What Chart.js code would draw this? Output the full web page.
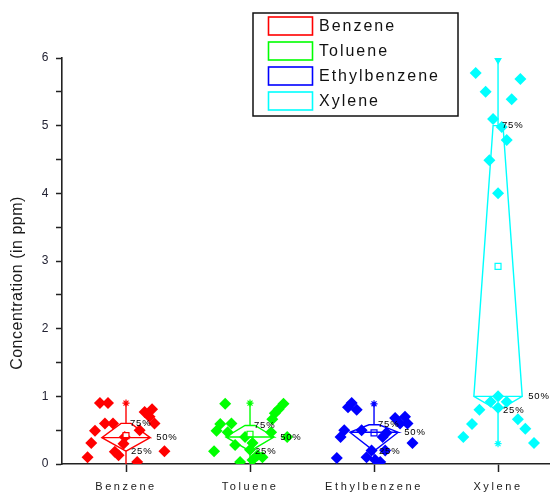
<!DOCTYPE html>
<html><head><meta charset="utf-8">
<script src="https://cdn.jsdelivr.net/npm/chart.js@4"></script>
<style>html,body{margin:0;padding:0;background:#fff}</style>
</head><body>
<canvas id="c" width="550" height="492"></canvas>
<script>
// ---- data ----
const categories = ['Benzene', 'Toluene', 'Ethylbenzene', 'Xylene'];
const whiskerLow  = [0.0, 0.0, 0.0, 0.3];
const whiskerHigh = [0.9, 0.9, 0.89, 6.0];
const q1          = [0.19, 0.19, 0.19, 0.79];
const median      = [0.39, 0.4, 0.47, 1.0];
const q3          = [0.6, 0.57, 0.58, 5.0];
const mean        = [0.42, 0.44, 0.46, 2.92];
const percentLabels = ['75%', '50%', '25%'];

// raw points: jitter offset from category centre, and measured value
const benzeneJitter  = [-0.21, -0.145, -0.17, -0.105, -0.25, -0.28, -0.31, -0.09, -0.06, -0.01, -0.02, 0.09, 0.11, 0.15, 0.21, 0.19, 0.23, 0.31];
const benzeneValues  = [0.9, 0.9, 0.6, 0.6, 0.49, 0.31, 0.1, 0.18, 0.13, 0.4, 0.3, 0.03, 0.5, 0.77, 0.81, 0.7, 0.6, 0.19];
const tolueneJitter  = [-0.2, -0.29, -0.24, -0.27, -0.18, -0.15, -0.12, -0.04, 0.0, 0.02, 0.06, 0.1, -0.08, 0.02, 0.2, 0.18, 0.27, 0.23, 0.17, 0.3];
const tolueneValues  = [0.89, 0.19, 0.59, 0.49, 0.47, 0.6, 0.28, 0.4, 0.21, 0.31, 0.13, 0.1, 0.03, 0.06, 0.75, 0.66, 0.89, 0.81, 0.47, 0.4];
const ethylJitter    = [-0.18, -0.14, -0.21, -0.24, -0.27, -0.3, -0.1, -0.06, -0.02, 0.01, 0.05, 0.07, 0.1, 0.17, 0.25, 0.21, 0.27, 0.31, 0.09];
const ethylValues    = [0.9, 0.8, 0.84, 0.5, 0.4, 0.09, 0.5, 0.1, 0.2, 0.06, 0.03, 0.4, 0.46, 0.68, 0.7, 0.6, 0.6, 0.31, 0.2];
const xyleneJitter   = [-0.18, -0.1, 0.18, 0.11, -0.04, 0.03, 0.07, -0.07, 0.0, -0.28, -0.21, -0.15, -0.06, 0.0, 0.07, 0.0, 0.16, 0.22, 0.29];
const xyleneValues   = [5.78, 5.5, 5.69, 5.39, 5.1, 4.98, 4.79, 4.49, 4.0, 0.4, 0.59, 0.8, 0.92, 1.0, 0.92, 0.83, 0.66, 0.52, 0.31];

// ---- styling ----
const colors = ['#ff0000', '#00ff00', '#0000ff', '#00ffff'];
const jitters = [benzeneJitter, tolueneJitter, ethylJitter, xyleneJitter];
const values = [benzeneValues, tolueneValues, ethylValues, xyleneValues];
const BOX_HALF = 0.195;   // half width of box (x units)
const TOP_HALF = 0.04;    // half width of flat top at Q3

const datasets = [];
categories.forEach((name, i) => {
  const c = i + 1;
  datasets.push({
    type: 'scatter', label: name + ' data', order: 2,
    data: values[i].map((v, k) => ({ x: c + jitters[i][k], y: v })),
    pointStyle: 'rectRot', pointRadius: 6, pointHoverRadius: 6,
    backgroundColor: colors[i], borderColor: colors[i], borderWidth: 0
  });
  datasets.push({
    type: 'scatter', label: name, order: 0, showLine: true,
    data: [
      { x: c - BOX_HALF, y: median[i] }, { x: c + BOX_HALF, y: median[i] },
      { x: c + TOP_HALF, y: q3[i] }, { x: c - TOP_HALF, y: q3[i] },
      { x: c - BOX_HALF, y: median[i] }, { x: c, y: q1[i] },
      { x: c + BOX_HALF, y: median[i] }
    ],
    borderColor: colors[i], borderWidth: 1.4, pointRadius: 0, fill: false, tension: 0
  });
  const topMarker = i === 3 ? 'triangle' : 'star';
  datasets.push({
    type: 'scatter', label: name + ' upper', order: 0, showLine: true,
    data: [{ x: c, y: q3[i] }, { x: c, y: whiskerHigh[i] }],
    borderColor: colors[i], borderWidth: 1.4,
    pointRadius: [0, i === 3 ? 5.5 : 3.5],
    pointStyle: topMarker, pointRotation: i === 3 ? 180 : 0,
    backgroundColor: colors[i], pointBorderColor: colors[i], pointBorderWidth: 1.2
  });
  datasets.push({
    type: 'scatter', label: name + ' lower', order: 0, showLine: true,
    data: [{ x: c, y: q1[i] }, { x: c, y: whiskerLow[i] }],
    borderColor: colors[i], borderWidth: 1.4,
    pointRadius: [0, i === 3 ? 3.5 : 0], pointStyle: 'star',
    pointBorderColor: colors[i], pointBorderWidth: 1.2
  });
  datasets.push({
    type: 'scatter', label: name + ' mean', order: 0,
    data: [{ x: c, y: mean[i] }],
    pointStyle: 'rect', pointRadius: 4.2, backgroundColor: '#ffffff',
    borderColor: colors[i], borderWidth: 1.2
  });
});

const FONT = '"Liberation Sans", Arial, sans-serif';

const decor = {
  id: 'decor',
  beforeDraw(chart) { chart.ctx.letterSpacing = '2.6px'; },
  afterDraw(chart) {
    const ctx = chart.ctx;
    const xs = chart.scales.x, ys = chart.scales.y;
    ctx.save();
    ctx.letterSpacing = '0.8px';
    ctx.font = '9.5px ' + FONT;
    ctx.fillStyle = '#000';
    ctx.textAlign = 'left';
    ctx.textBaseline = 'middle';
    categories.forEach((n, i) => {
      const c = i + 1;
      ctx.fillText(percentLabels[0], xs.getPixelForValue(c) + 4, ys.getPixelForValue(q3[i]));
      ctx.fillText(percentLabels[1], xs.getPixelForValue(c + BOX_HALF) + 6, ys.getPixelForValue(median[i]));
      ctx.fillText(percentLabels[2], xs.getPixelForValue(c) + 5, ys.getPixelForValue(q1[i]));
    });
    ctx.letterSpacing = '0.5px';
    ctx.font = '16px ' + FONT;
    ctx.fillStyle = '#1a1a1a';
    ctx.textAlign = 'center';
    ctx.translate(18, 283);
    ctx.rotate(-Math.PI / 2);
    ctx.fillText('Concentration (in ppm)', 0, 0);
    ctx.restore();

    ctx.save();
    ctx.lineWidth = 1.5;
    ctx.strokeStyle = '#111';
    ctx.strokeRect(253, 13, 205, 103);
    const rowY = [26, 51, 76, 101];
    ctx.font = '16px ' + FONT;
    ctx.letterSpacing = '2px';
    ctx.textAlign = 'left';
    ctx.textBaseline = 'middle';
    categories.forEach((n, i) => {
      ctx.strokeStyle = colors[i];
      ctx.lineWidth = 1.6;
      ctx.strokeRect(268.5, rowY[i] - 9, 44, 18);
      ctx.fillStyle = '#111';
      ctx.fillText(n, 319, rowY[i] + 1);
    });
    ctx.restore();
    ctx.letterSpacing = '0px';
  }
};

new Chart(document.getElementById('c'), {
  data: { datasets },
  options: {
    responsive: false, animation: false, devicePixelRatio: 1,
    layout: { autoPadding: false, padding: { top: 58, right: 0, left: 0, bottom: 0 } },
    plugins: { legend: { display: false }, tooltip: { enabled: false } },
    scales: {
      x: {
        type: 'linear', min: 0.4839, max: 4.419,
        afterBuildTicks: s => { s.ticks = categories.map((n, i) => ({ value: i + 1 })); },
        afterFit: s => { s.height = 28; s.paddingLeft = 0; s.paddingRight = 0; },
        ticks: {
          autoSkip: false, maxRotation: 0, padding: 8,
          font: { size: 11, family: FONT }, color: '#1a1a1a',
          callback: v => categories[Math.round(v) - 1]
        },
        grid: { drawOnChartArea: false, drawTicks: true, tickLength: 8, tickColor: '#222', tickWidth: 1.5 },
        border: { display: true, color: '#222', width: 1.6 }
      },
      y: {
        min: 0, max: 6,
        afterFit: s => { s.width = 62; s.paddingTop = 0; s.paddingBottom = 0; },
        ticks: {
          stepSize: 0.5, padding: 5, font: { size: 12, family: FONT }, color: '#223',
          callback: v => Number.isInteger(v) ? String(v) : ''
        },
        grid: { drawOnChartArea: false, drawTicks: true, tickLength: 6, tickColor: '#222', tickWidth: 1.5 },
        border: { display: true, color: '#222', width: 1.6 }
      }
    }
  },
  plugins: [decor]
});
</script>
</body></html>
